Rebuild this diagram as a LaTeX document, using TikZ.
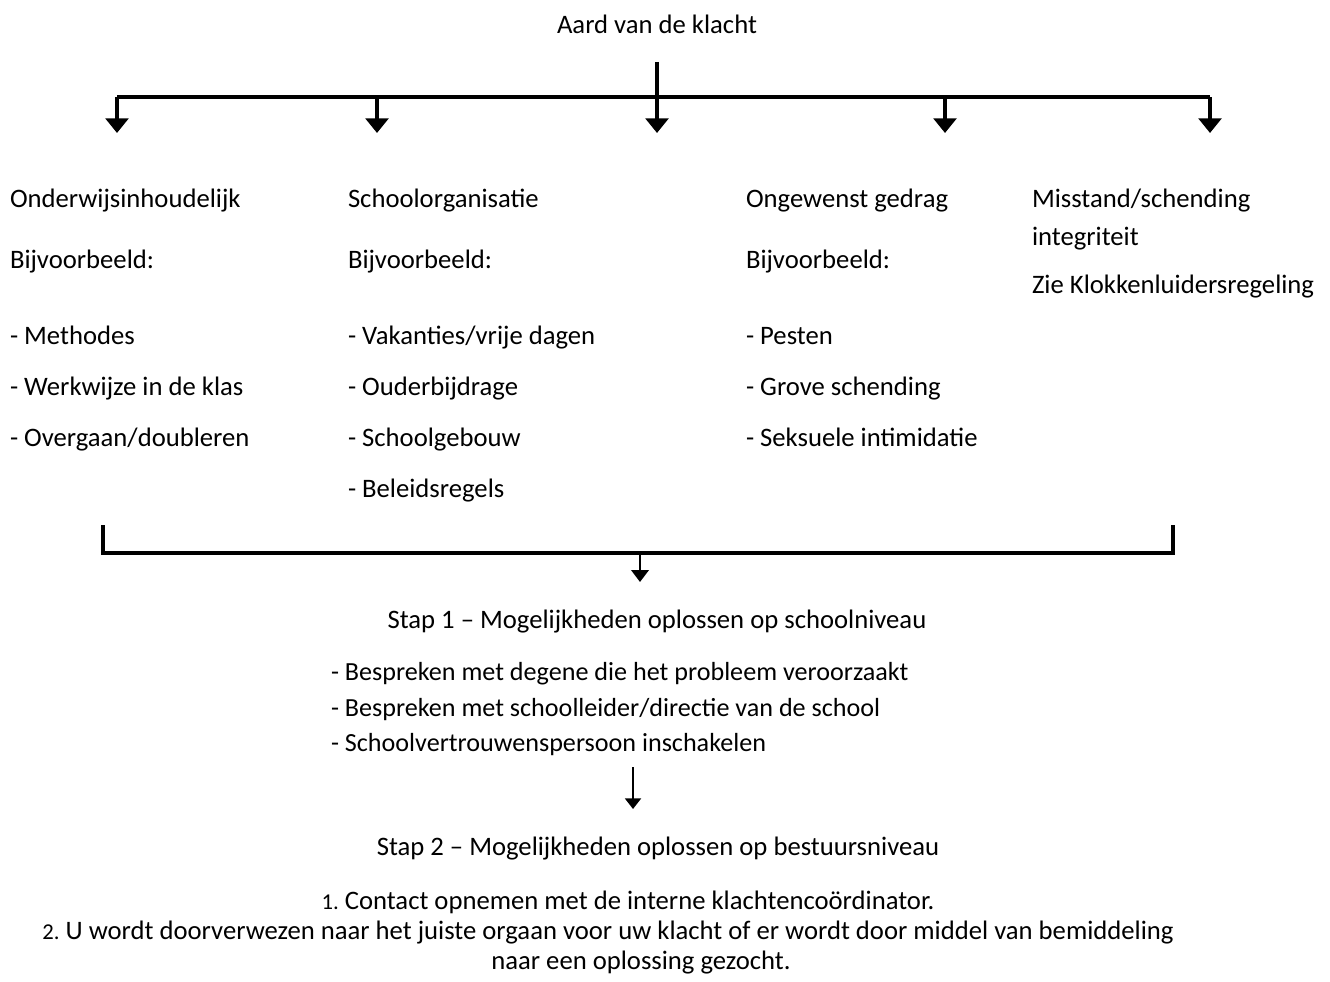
\documentclass[tikz,border=0pt]{standalone}
\usepackage{fontspec}
\setmainfont{Carlito}
\usetikzlibrary{arrows.meta}
\frenchspacing
\begin{document}
\begin{tikzpicture}[x=0.75pt,y=-0.75pt,
  txt/.style={font=\fontsize{20}{24}\selectfont, inner sep=0pt, outer sep=0pt, anchor=base west},
  ctxt/.style={txt, anchor=base},
  stxt/.style={txt, font=\fontsize{19.6}{24}\selectfont},
  bigline/.style={line width=3pt},
  bigarrow/.style={line width=3pt, -{Triangle[width=17pt,length=11pt]}},
  midarrow/.style={line width=2.2pt, -{Triangle[width=13pt,length=9pt]}},
  smallarrow/.style={line width=1.5pt, -{Triangle[width=12pt,length=8pt]}}]
\newcommand{\numlbl}[1]{{\fontsize{17}{20}\selectfont #1}}
\useasboundingbox (0,0) rectangle (1330,981);

% title
\node[ctxt] (title) at (657,34) {Aard van de klacht};

% column texts
\node[txt] (h1) at (10,207) {Onderwijsinhoudelijk};
\node[txt] (b1) at (10,268) {Bijvoorbeeld:};
\node[txt] (a11) at (10,344) {- Methodes};
\node[txt] (a12) at (10,395) {- Werkwijze in de klas};
\node[txt] (a13) at (10,446) {- Overgaan/doubleren};

\node[txt] (h2) at (348,207) {Schoolorganisatie};
\node[txt] (b2) at (348,268) {Bijvoorbeeld:};
\node[txt] (a21) at (348,344) {- Vakanties/vrije dagen};
\node[txt] (a22) at (348,395) {- Ouderbijdrage};
\node[txt] (a23) at (348,446) {- Schoolgebouw};
\node[txt] (a24) at (348,497) {- Beleidsregels};

\node[txt] (h3) at (746,207) {Ongewenst gedrag};
\node[txt] (b3) at (746,268) {Bijvoorbeeld:};
\node[txt] (a31) at (746,344) {- Pesten};
\node[txt] (a32) at (746,395) {- Grove schending};
\node[txt] (a33) at (746,446) {- Seksuele intimidatie};

\node[txt] (h4) at (1032,207) {Misstand/schending};
\node[txt] (h4b) at (1032,245) {integriteit};
\node[txt] (b4) at (1032,293) {Zie Klokkenluidersregeling};

% top connectors
\coordinate (top) at (657,62);
\coordinate (jl) at (117,97);
\coordinate (jr) at (1210,97);
\coordinate (t1) at (117,133);
\coordinate (t2) at (377,133);
\coordinate (t3) at (657,133);
\coordinate (t4) at (945,133);
\coordinate (t5) at (1210,133);
\draw[bigline] (jl) -- (jr);
\draw[bigarrow] (top) -- (t3);
\draw[bigarrow] (jl) -- (t1);
\draw[bigarrow] (377,97) -- (t2);
\draw[bigarrow] (945,97) -- (t4);
\draw[bigarrow] (jr) -- (t5);

% bottom bracket
\coordinate (bl) at (103,525);
\coordinate (br) at (1173,525);
\coordinate (bj) at (640,553);
\coordinate (bt) at (640,582);
\draw[bigline] (bl) |- (bj) -| (br);
\draw[midarrow] (bj) -- (bt);

% step 1
\node[ctxt] (s1) at (657,628) {Stap 1 – Mogelijkheden oplossen op schoolniveau};
\node[stxt] (s11) at (331,680) {- Bespreken met degene die het probleem veroorzaakt};
\node[stxt] (s12) at (331,716) {- Bespreken met schoolleider/directie van de school};
\node[stxt] (s13) at (331,751) {- Schoolvertrouwenspersoon inschakelen};

\coordinate (m1) at (633,767);
\coordinate (m2) at (633,809);
\draw[smallarrow] (m1) -- (m2);

% step 2
\node[ctxt] (s2) at (658,855) {Stap 2 – Mogelijkheden oplossen op bestuursniveau};
\node[ctxt] (s21) at (628,909) {\numlbl{1.} Contact opnemen met de interne klachtencoördinator.};
\node[ctxt] (s22) at (608,939) {\numlbl{2.} U wordt doorverwezen naar het juiste orgaan voor uw klacht of er wordt door middel van bemiddeling};
\node[ctxt] (s23) at (641,969) {naar een oplossing gezocht.};
\end{tikzpicture}
\end{document}
